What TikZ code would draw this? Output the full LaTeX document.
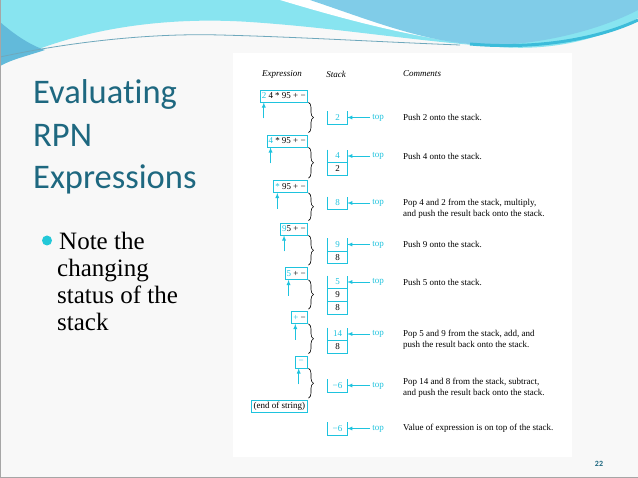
\documentclass[tikz,border=0pt]{standalone}
\usepackage{fontspec}
\setmainfont{Liberation Serif}
\newfontfamily\slidefont[Ligatures=NoCommon]{Carlito}
\usetikzlibrary{arrows,positioning,decorations.pathreplacing}
\definecolor{figcyan}{RGB}{30,195,222}
\definecolor{titleteal}{RGB}{30,104,128}
\definecolor{bulletcyan}{RGB}{34,200,216}
\definecolor{wavecyan}{RGB}{136,228,240}
\definecolor{waveblue}{RGB}{98,186,218}
\definecolor{wavesky}{RGB}{128,204,232}
\definecolor{wavedeep}{RGB}{60,188,218}
\definecolor{waveline}{RGB}{110,168,188}
\definecolor{slidebg}{RGB}{248,248,248}
\tikzstyle{exprbox}=[draw=figcyan, line width=0.7pt, anchor=east, inner xsep=1.5pt, inner ysep=0pt, minimum height=12pt, minimum width=12pt, font=\fontsize{9}{11}\selectfont]
\tikzstyle{cell}=[minimum width=19pt, minimum height=12.5pt, inner sep=0pt, font=\fontsize{9}{11}\selectfont]
\tikzstyle{cline}=[draw=figcyan, line width=0.7pt]
\tikzstyle{ptr}=[draw=figcyan, line width=0.8pt, -latex]
\tikzstyle{toplabel}=[text=figcyan, inner sep=2pt, font=\fontsize{9}{11}\selectfont]
\tikzstyle{remark}=[anchor=west, align=left, inner sep=0pt, font=\fontsize{9}{11}\selectfont]
\tikzstyle{colhead}=[font=\fontsize{9}{11}\selectfont\itshape]
\tikzstyle{stepbrace}=[draw, line width=0.6pt, decorate, decoration={brace, amplitude=5pt}]
\tikzstyle{slidetitle}=[text=titleteal, anchor=base west, inner sep=0pt, font=\slidefont\fontsize{34.5}{42}\selectfont]
\tikzstyle{bultext}=[anchor=base west, inner sep=0pt, font=\fontsize{25}{27}\selectfont]
\begin{document}
\begin{tikzpicture}[x=1pt, y=-1pt]
	\useasboundingbox (0,0) rectangle (638,478);
	% Slide background and header waves
	\fill[slidebg] (0,0) rectangle (638,478);
	\fill[wavecyan] (0,0) -- (638,0) -- (638,18) .. controls (590,45) and (540,50) .. (500,47)
		.. controls (420,42) and (340,28) .. (250,22) .. controls (160,16) and (70,30) .. (0,66) -- cycle;
	\fill[waveblue] (0,22) .. controls (15,35) and (30,45) .. (45,50) .. controls (30,55) and (10,60) .. (0,66) -- cycle;
	\fill[white] (280,0) -- (330,0) -- (470,44) .. controls (400,35) and (330,15) .. (280,0) -- cycle;
	\fill[wavesky] (310,0) -- (638,0) -- (638,10) .. controls (600,30) and (540,45) .. (490,45)
		.. controls (430,45) and (370,20) .. (310,0) -- cycle;
	\draw[wavedeep, line width=3pt] (470,44) .. controls (540,50) and (600,38) .. (638,20);
	\draw[waveline, line width=0.8pt] (0,57) .. controls (70,42) and (150,33) .. (220,35) .. controls (300,37) and (380,42) .. (460,45);
	\draw[gray!70] (0.5,0) -- (0.5,477.5) -- (638,477.5);
	\fill[white] (233,53) rectangle (572,457);

	% Title, bullet and page number
	\foreach \txt/\yb [count=\i] in {Evaluat\kern0pt ing/104, RPN/146.5, Expressions/189}
		\node[slidetitle] (title\i) at (33,\yb) {\txt};
	\node[circle, fill=bulletcyan, minimum size=10pt, inner sep=0pt] (dot) at (47,240.5) {};
	\foreach \txt/\xb/\yb [count=\i] in {Note the/59/250, changing/57/276.8, status of the/57/303.6, stack/57/330.4}
		\node[bultext] (bul\i) at (\xb,\yb) {\txt};
	\node[text=titleteal, font=\slidefont\bfseries\fontsize{8}{9}\selectfont] (page) at (599,464) {22};

	% Column headings
	\node[colhead] (hexp) at (282,74) {Expression};
	\node[colhead] (hstk) at (336,74) {Stack};
	\node[colhead] (hcom) at (422,74) {Comments};

	% First we draw the expression boxes, scanned symbol in cyan
	\foreach \y/\name/\first/\rest in {96/e1/2/{\ 4 * 95 + −}, 141/e2/4/{\ * 95 + −}, 186.5/e3/*/{\ 95 + −},
									229/e4/9/{5 + −}, 273.5/e5/5/{\ + −}, 317.5/e6/+/{\ −}, 362/e7/−/{}}
	\node[exprbox] (\name) at (307.5,\y) {\textcolor{figcyan}{\first}\rest};
	\node[exprbox, inner xsep=2pt] (e8) at (307.5,406.5) {(end of string)};

	% Arrows to the scanned symbol and braces between steps
	\foreach \i in {1,...,7} {
		\coordinate (p\i) at ([xshift=3.9pt,yshift=-16pt]e\i.south west);
		\draw[ptr] (p\i) -- (p\i |- e\i.south);
	}
	\foreach \i/\j in {1/2, 2/3, 3/4, 4/5, 5/6, 6/7, 7/8}
	\draw[stepbrace] ([xshift=1pt]e\i.south east) -- ([xshift=1pt,yshift=2pt]e\j.north east);

	% Then the stacks, top value in cyan
	\foreach \y/\name/\val in {117.5/s1/2, 156/s2/4, 203/s3/8, 244.5/s4/9, 282/s5/5, 334/s6/14, 385.5/s7/−6, 428.5/s8/−6}
	\node[cell, text=figcyan] (\name) at (337.5,\y) {\val};
	\foreach \above/\name/\val in {s2/s2b/2, s4/s4b/8, s5/s5b/9, s5b/s5c/8, s6/s6b/8}
	\node[cell, below=0pt of \above] (\name) {\val};
	\foreach \t/\b in {s1/s1, s2/s2b, s3/s3, s4/s4b, s5/s5c, s6/s6b, s7/s7, s8/s8}
	\draw[cline] (\t.north west) |- (\b.south east) -- (\t.north east);
	\foreach \c in {s2, s4, s5, s5b, s6}
	\draw[cline] (\c.south west) -- (\c.south east);

	% Top pointers
	\foreach \s in {s1, s2, s3, s4, s5, s6, s7, s8} {
		\node[toplabel, right=23pt of \s] (t\s) {top};
		\draw[ptr] (t\s) -- (\s);
	}

	% Comments
	\foreach \y/\txt [count=\i] in {117.5/{Push 2 onto the stack.}, 156/{Push 4 onto the stack.},
		208.5/{Pop 4 and 2 from the stack, multiply,\\and push the result back onto the stack.},
		244.5/{Push 9 onto the stack.}, 282/{Push 5 onto the stack.},
		339.5/{Pop 5 and 9 from the stack, add, and\\push the result back onto the stack.},
		388/{Pop 14 and 8 from the stack, subtract,\\and push the result back onto the stack.},
		428.5/{Value of expression is on top of the stack.}}
	\node[remark] (c\i) at (403,\y) {\txt};
\end{tikzpicture}
\end{document}
